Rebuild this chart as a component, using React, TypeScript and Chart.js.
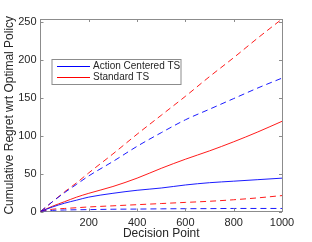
import React, { useEffect, useRef } from "react";
import { Chart, registerables } from "chart.js";

Chart.register(...registerables);

const decisionPoints = [0, 50, 100, 150, 200, 300, 400, 500, 600, 700, 800, 900, 1000];
const actionCenteredSolid = [0, 6, 11, 15, 19, 24, 28, 31, 35, 38, 40, 42, 44];
const standardSolid = [0, 7, 13, 19, 24, 33, 44, 57, 69, 80, 92, 105, 119];
const actionCenteredUpper = [0, 13, 25, 36, 47, 66, 86, 104, 121, 135, 149, 163, 176];
const standardUpper = [0, 13, 26, 38, 51, 76, 102, 127, 152, 178, 203, 229, 254];
const actionCenteredLower = [0, 1.5, 2, 2.3, 2.5, 3, 3.2, 3.5, 3.7, 3.8, 4, 4, 4];
const standardLower = [0, 3, 4, 5, 6, 7.5, 9, 10.5, 12, 13.5, 15.5, 18, 21];

const xTicks = [200, 400, 600, 800, 1000];
const yTicks = [0, 50, 100, 150, 200, 250];
const legendLabels = ["Action Centered TS", "Standard TS"];

const BLUE = "#0000ff";
const RED = "#ff0000";
const AXIS = "#8c8c8c";
const TEXT = "#262626";
const FONT = "'Liberation Sans', Arial, Helvetica, sans-serif";

const toPoints = (ys: number[]) => decisionPoints.map((x, i) => ({ x, y: ys[i] }));

const boxPlugin = {
  id: "matlabBox",
  afterDraw(chart: any) {
    const { ctx, chartArea } = chart;
    const { left, right, top, bottom } = chartArea;
    const xs = chart.scales.x;
    const ys = chart.scales.y;
    ctx.save();
    ctx.strokeStyle = AXIS;
    ctx.lineWidth = 1;
    ctx.beginPath();
    ctx.moveTo(left, top + 0.5);
    ctx.lineTo(right + 0.5, top + 0.5);
    ctx.lineTo(right + 0.5, bottom);
    ctx.stroke();
    const tl = 3;
    ctx.beginPath();
    xs.ticks.forEach((t: any) => {
      const px = Math.round(xs.getPixelForValue(t.value)) + 0.5;
      ctx.moveTo(px, bottom);
      ctx.lineTo(px, bottom - tl);
      ctx.moveTo(px, top);
      ctx.lineTo(px, top + tl);
    });
    ys.ticks.forEach((t: any) => {
      const py = Math.round(ys.getPixelForValue(t.value)) + 0.5;
      ctx.moveTo(left, py);
      ctx.lineTo(left + tl, py);
      ctx.moveTo(right, py);
      ctx.lineTo(right - tl, py);
    });
    ctx.stroke();

    // legend
    const bx = left + 11.5;
    const by = top + 40.5;
    const bw = 129;
    const bh = 25;
    ctx.fillStyle = "#ffffff";
    ctx.fillRect(bx, by, bw, bh);
    ctx.strokeStyle = AXIS;
    ctx.strokeRect(bx, by, bw, bh);
    const entries = [
      { label: legendLabels[0], color: BLUE },
      { label: legendLabels[1], color: RED },
    ];
    ctx.font = `10px ${FONT}`;
    ctx.textBaseline = "middle";
    ctx.textAlign = "left";
    entries.forEach((e, i) => {
      const ly = Math.round(by + 6 + i * 11.5) + 0.5;
      ctx.strokeStyle = e.color;
      ctx.beginPath();
      ctx.moveTo(bx + 5, ly);
      ctx.lineTo(bx + 38, ly);
      ctx.stroke();
      ctx.fillStyle = TEXT;
      ctx.fillText(e.label, bx + 41, ly);
    });
    ctx.restore();
  },
};

export default function App() {
  const ref = useRef<HTMLCanvasElement | null>(null);

  useEffect(() => {
    document.body.style.margin = "0";
    const canvas = ref.current;
    if (!canvas) return;
    const mk = (label: string, ys: number[], color: string, dashed: boolean) => ({
      label,
      data: toPoints(ys),
      borderColor: color,
      backgroundColor: color,
      borderWidth: 0.9,
      borderDash: dashed ? [6, 4] : [],
      pointRadius: 0,
      cubicInterpolationMode: "monotone",
      fill: false,
    });
    const chart = new Chart(canvas, {
      type: "line",
      data: {
        datasets: [
          mk(legendLabels[0], actionCenteredSolid, BLUE, false),
          mk(legendLabels[1], standardSolid, RED, false),
          mk(legendLabels[0] + " (upper)", actionCenteredUpper, BLUE, true),
          mk(legendLabels[1] + " (upper)", standardUpper, RED, true),
          mk(legendLabels[0] + " (lower)", actionCenteredLower, BLUE, true),
          mk(legendLabels[1] + " (lower)", standardLower, RED, true),
        ],
      },
      options: {
        responsive: false,
        animation: false,
        devicePixelRatio: 1,
        layout: { padding: { top: 19, right: 30, left: 0, bottom: 0 } },
        plugins: { legend: { display: false }, tooltip: { enabled: false } },
        scales: {
          x: {
            type: "linear",
            min: 0,
            max: 1000,
            afterBuildTicks: (s: any) => {
              s.ticks = xTicks.map((v) => ({ value: v }));
            },
            afterFit: (s: any) => {
              s.height = 30.5;
            },
            grid: { display: false, drawTicks: false },
            border: { display: true, color: AXIS, width: 1 },
            ticks: {
              color: TEXT,
              font: { family: FONT, size: 11 },
              padding: 5,
              maxRotation: 0,
              autoSkip: false,
              callback: (v: any) => String(v),
            },
            title: {
              display: true,
              text: "Decision Point",
              color: TEXT,
              font: { family: FONT, size: 12 },
              padding: { top: 0, bottom: 1 },
            },
          },
          y: {
            type: "linear",
            min: 0,
            max: 254,
            afterBuildTicks: (s: any) => {
              s.ticks = yTicks.map((v) => ({ value: v }));
            },
            afterFit: (s: any) => {
              s.width = 40.5;
            },
            grid: { display: false, drawTicks: false },
            border: { display: true, color: AXIS, width: 1 },
            ticks: {
              color: TEXT,
              font: { family: FONT, size: 11 },
              padding: 4,
              autoSkip: false,
              callback: (v: any) => String(v),
            },
            title: {
              display: true,
              text: "Cumulative Regret wrt Optimal Policy",
              color: TEXT,
              font: { family: FONT, size: 12 },
              padding: { top: 2, bottom: 0 },
            },
          },
        },
      },
      plugins: [boxPlugin],
    });
    return () => chart.destroy();
  }, []);

  return (
    <div style={{ width: 312, height: 242, background: "#fff" }}>
      <canvas ref={ref} width={312} height={242} style={{ display: "block" }} />
    </div>
  );
}
